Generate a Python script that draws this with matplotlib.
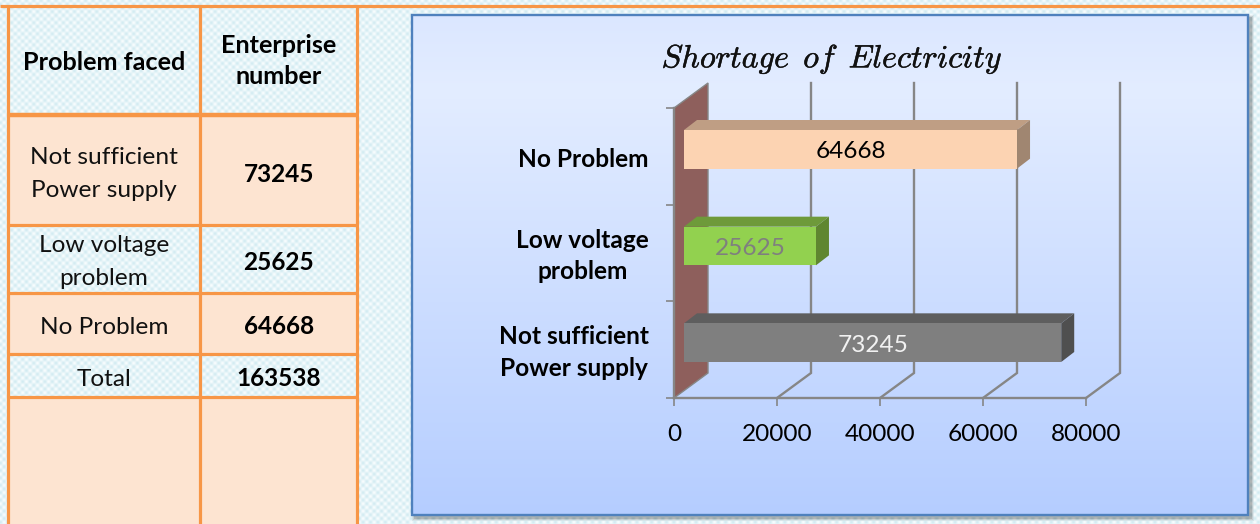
import numpy as np
import matplotlib
matplotlib.use("Agg")
import matplotlib.pyplot as plt
import matplotlib.patheffects as pe
from matplotlib.patches import Polygon, Rectangle

categories = ["Not sufficient\nPower supply", "Low voltage\nproblem", "No Problem"]
values = [73245, 25625, 64668]
total = 163538
x_ticks = [0, 20000, 40000, 60000, 80000]
front_colors = ["#7f7f7f", "#92d14f", "#fcd3b2"]
top_colors = ["#5e5e5e", "#6e9a3a", "#bf9e84"]
side_colors = ["#4f4f4f", "#5f8630", "#a08671"]
label_colors = ["#f2f2f2", "#7f7f7f", "#000000"]
table_header = ["Problem faced", "Enterprise\nnumber"]
table_rows = [("Not sufficient\nPower supply", "73245"), ("Low voltage\nproblem", "25625"),
              ("No Problem", "64668"), ("Total", str(total))]
title = r"$Shortage\ \,of\ \,Electricity$"

plt.rcParams["font.family"] = ["Lato", "DejaVu Sans"]
plt.rcParams["mathtext.fontset"] = "cm"
W, H = 1260, 524
ORANGE = "#f79646"
GRID = "#868686"
fig = plt.figure(figsize=(W / 100, H / 100), dpi=100)
bg = fig.add_axes([0, 0, 1, 1])
bg.set_axis_off()

# lattice texture of the page
yy, xx = np.mgrid[0:H, 0:W]
period = 7.4
lat = (np.cos(2 * np.pi * (xx + yy) / period) + np.cos(2 * np.pi * (xx - yy) / period)) / 4 + 0.5
c0, c1 = np.array([0.83, 0.925, 0.95]), np.array([0.97, 0.99, 0.995])
tex = c0 + (c1 - c0)[None, None, :] * lat[..., None]
bg.imshow(tex, extent=[0, W, H, 0], aspect="auto", zorder=0, interpolation="bilinear")

# table
col_x = [8, 200, 357]
row_y = [5.5, 115, 225, 293, 354, 397, 524]
for i, filled in enumerate([False, True, False, True, False, True]):
    if filled:
        bg.add_patch(Rectangle((col_x[0], row_y[i]), col_x[2] - col_x[0], row_y[i + 1] - row_y[i],
                               fc="#fde4d1", ec="none", zorder=1))
for x in col_x:
    bg.plot([x, x], [5, H], color=ORANGE, lw=2.3, zorder=2, solid_capstyle="butt")
bg.plot([0, W], [5.5, 5.5], color=ORANGE, lw=2.3, zorder=2, solid_capstyle="butt")
for k, y in enumerate(row_y[1:-1]):
    bg.plot([col_x[0], col_x[2]], [y, y], color=ORANGE, lw=3.2 if k == 0 else 2.3, zorder=2, solid_capstyle="butt")
TS = 17.6
TB = 18.2
bg.text(104, 62, table_header[0], ha="center", va="center", fontsize=TB, fontweight="bold", color="k", zorder=3)
bg.text(279, 61, table_header[1], ha="center", va="center", fontsize=TB, fontweight="bold", color="k", zorder=3, linespacing=1.47)
ry = [174, 262, 327, 379]
for (a, b), y in zip(table_rows, ry):
    bg.text(104, y, a, ha="center", va="center", fontsize=TS, color="#111111", zorder=3, linespacing=1.65)
    bg.text(279, y, b, ha="center", va="center", fontsize=TS, fontweight="bold", color="k", zorder=3)

# chart panel
px0, px1, py0, py1 = 412, 1248, 15, 515
for off, a in [(6, .06), (4, .10), (2, .14)]:
    bg.add_patch(Rectangle((px0 + 3 - off / 2, py0 + 3 - off / 2), px1 - px0 + off, py1 - py0 + off, fc="k", alpha=a, ec="none", zorder=3))
t = np.linspace(0, 1, 256)
stops = np.array([[0.86, 0.905, 1.0], [0.89, 0.928, 1.0], [0.71, 0.805, 1.0]])
g = np.stack([np.interp(t, [0, 0.15, 1], stops[:, c]) for c in range(3)], axis=1)[:, None, :]
bg.imshow(g, extent=[px0, px1, py1, py0], aspect="auto", zorder=4)
bg.add_patch(Rectangle((px0, py0), px1 - px0, py1 - py0, fc="none", ec="#4f81bd", lw=1.7, zorder=5))
bg.set_xlim(0, W)
bg.set_ylim(H, 0)
bg.text(832, 59, title, ha="center", va="center", fontsize=23.2, color="#111111", zorder=6,
        path_effects=[pe.withStroke(linewidth=0.3, foreground="#111111")])

# chart axes (front plane)
ax = fig.add_axes([674 / W, (H - 398) / H, 412 / W, 290 / H], zorder=2)
ax.patch.set_alpha(0)
ax.set_xlim(0, 80000)
ax.set_ylim(0, 3)
ux = 80000 / 412      # data per pixel
uy = 3 / 290
depth_x, depth_y = 34 * ux, 25 * uy

# wall, back gridlines, floor
ax.add_patch(Polygon([(0, 0), (depth_x, depth_y), (depth_x, 3 + depth_y), (0, 3)], fc="#8e5f5c", ec=GRID, lw=1.0, zorder=1, clip_on=False))
for tk in x_ticks[1:]:
    ax.plot([tk, tk + depth_x, tk + depth_x], [0, depth_y, 3 + depth_y], color=GRID, lw=1.7, zorder=1, clip_on=False, solid_joinstyle="miter")

# bars with depth
gap_x, gap_y = 10 * ux, 7 * uy
bx, by = 13 * ux, 10 * uy
bh = 0.4
for i, v in enumerate(values):
    cy = i + 0.5 + gap_y
    x0, x1 = gap_x, v + gap_x
    y0, y1 = cy - bh / 2, cy + bh / 2
    ax.barh(cy, v, height=bh, left=gap_x, color=front_colors[i], zorder=4, clip_on=False)
    ax.add_patch(Polygon([(x0, y1), (x1, y1), (x1 + bx, y1 + by), (x0 + bx, y1 + by)], fc=top_colors[i], ec="none", zorder=3, clip_on=False))
    ax.add_patch(Polygon([(x1, y0), (x1 + bx, y0 + by), (x1 + bx, y1 + by), (x1, y1)], fc=side_colors[i], ec="none", zorder=3, clip_on=False))
    ax.text((x0 + x1) / 2, cy - 2.5 * uy, str(v), ha="center", va="center", fontsize=TS, color=label_colors[i], zorder=5)

for s in ["top", "right"]:
    ax.spines[s].set_visible(False)
for s in ["left", "bottom"]:
    ax.spines[s].set_color(GRID)
    ax.spines[s].set_linewidth(1.7)
ax.set_xticks(x_ticks)
ax.set_xticklabels([str(tk) for tk in x_ticks], fontsize=TS, color="k")
ax.set_yticks([0, 1, 2, 3])
ax.set_yticklabels([])
ax.set_yticks([i + 0.5 - 3 * uy for i in range(len(categories))], minor=True)
ax.set_yticklabels(categories, minor=True, fontsize=TS, fontweight="bold", color="k", multialignment="center", linespacing=1.47, va="center")
ax.tick_params(axis="y", which="minor", length=0, pad=18)
ax.tick_params(axis="y", which="major", length=6, width=1.2, color=GRID)
ax.tick_params(axis="x", length=6, width=1.2, color=GRID, pad=12.5)

fig.savefig("out.png", dpi=100)
